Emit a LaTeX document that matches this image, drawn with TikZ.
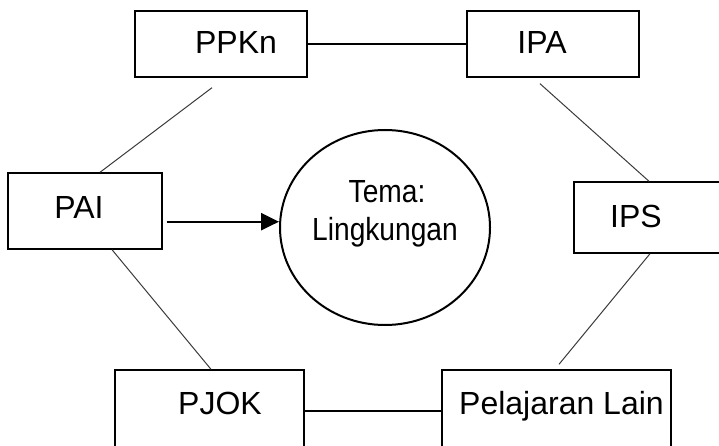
\documentclass[tikz,border=0pt]{standalone}
\usepackage{fontspec}
\setmainfont{Liberation Sans}
\newfontfamily\narrowfont[FakeStretch=0.88]{Liberation Sans}
\usetikzlibrary{arrows.meta,shapes.geometric}
\definecolor{linkgray}{HTML}{3A3A3A}
\tikzset{
  subject/.style={draw=black, line width=1.4pt, rectangle, inner sep=0pt, fill=white},
  label/.style={anchor=base, inner sep=0pt, font=\fontsize{32}{38}\selectfont},
  themelabel/.style={anchor=base, inner sep=0pt, font=\narrowfont\fontsize{32}{38}\selectfont},
  link/.style={draw=black, line width=1.3pt},
  diag/.style={draw=linkgray, line width=1pt},
  flow/.style={draw=black, line width=2.4pt, -{Triangle[length=18pt,width=17pt]}}
}
\begin{document}
\begin{tikzpicture}[x=1pt, y=1pt]
  \useasboundingbox (0,0) rectangle (719,445);
  \clip (0,0) rectangle (719,445);

  % subject boxes
  \node[subject, minimum width=172, minimum height=66] (ppkn) at (221,401) {};
  \node[subject, minimum width=172, minimum height=66] (ipa)  at (553,401) {};
  \node[subject, minimum width=154, minimum height=76] (pai)  at (85,234) {};
  \node[subject, minimum width=186, minimum height=71] (ips)  at (667,227.5) {};
  \node[subject, minimum width=189, minimum height=82] (pjok) at (209.5,34) {};
  \node[subject, minimum width=229, minimum height=82] (lain) at (556.5,34) {};

  % central theme
  \node[draw=black, line width=2pt, ellipse, minimum width=210, minimum height=195,
        inner sep=0pt] (tema) at (385,217.5) {};

  % texts
  \node[label] (tppkn) at (236,391) {PPKn};
  \node[label] (tipa)  at (542,391) {IPA};
  \node[label] (tpai)  at (79,227)  {PAI};
  \node[label] (tips)  at (636,218) {IPS};
  \node[label] (tpjok) at (220,31)  {PJOK};
  \node[label] (tlain) at (561.5,31) {Pelajaran Lain};
  \node[themelabel] (ttema1) at (387,243) {Tema:};
  \node[themelabel] (ttema2) at (385,205) {Lingkungan};

  % connectors
  \draw[link] (ppkn.east) -- (ipa.west);
  \draw[link] (pjok.east) -- (lain.west);
  \draw[diag] ([shift={(-9,-10)}]ppkn.south) -- ([xshift=15]pai.north);
  \draw[diag] ([shift={(-13,-6)}]ipa.south) -- ([xshift=-18]ips.north);
  \draw[diag] ([xshift=-17]ips.south) -- ([shift={(2.5,5)}]lain.north);
  \draw[diag] ([xshift=27]pai.south) -- ([xshift=1.5]pjok.north);
  \draw[flow] ([shift={(4,-10.7)}]pai.east) -- ([yshift=5.8]tema.west);
\end{tikzpicture}
\end{document}
